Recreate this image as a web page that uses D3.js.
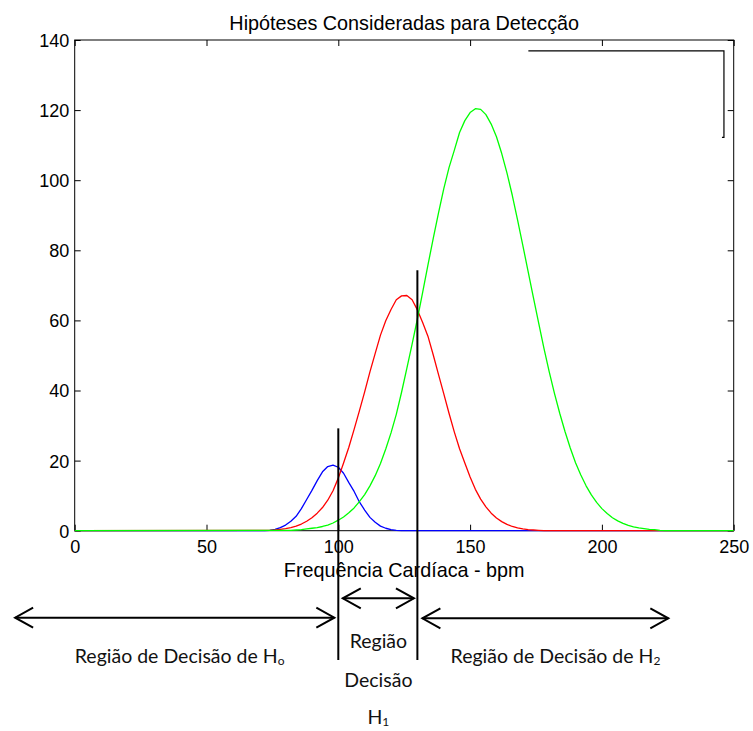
<!DOCTYPE html>
<html>
<head>
<meta charset="utf-8">
<script src="https://cdn.jsdelivr.net/npm/d3@7"></script>
<style>
  html, body { margin: 0; padding: 0; background: #fff; }
  svg { display: block; }
</style>
</head>
<body>
<script>
// ---------------- data ----------------
const xTicks = [0, 50, 100, 150, 200, 250];
const yTicks = [0, 20, 40, 60, 80, 100, 120, 140];

const blueBpm = [0, 72, 74, 76, 78, 80, 82, 84, 86, 88, 90, 92, 94, 96, 98, 100, 102, 104, 106, 108, 110, 112, 114, 116, 118, 120, 122, 124, 250];
const blueVal = [0, 0, 0.1, 0.4, 0.9, 1.6, 2.7, 4.1, 6.3, 8.9, 11.5, 14.3, 16.8, 18.3, 18.7, 18.1, 16.4, 13.7, 11.2, 8.2, 5.9, 3.8, 2.4, 1.3, 0.7, 0.3, 0.1, 0, 0];

const redBpm = [0, 74, 76, 78, 80, 82, 84, 86, 88, 90, 92, 94, 96, 98, 100, 102, 104, 106, 108, 110, 112, 114, 116, 118, 120, 122, 124, 126, 128, 130, 132, 134, 136, 138, 140, 142, 144, 146, 148, 150, 152, 154, 156, 158, 160, 162, 164, 166, 168, 170, 172, 174, 176, 178, 250];
const redVal = [0, 0.1, 0.2, 0.4, 0.6, 0.9, 1.3, 1.9, 2.7, 3.7, 5.0, 6.6, 8.7, 11.4, 15.0, 19.3, 23.8, 28.9, 34.2, 39.6, 45.3, 50.6, 55.8, 59.9, 63.1, 65.9, 67.0, 67.1, 65.9, 63.0, 59.4, 55.5, 50.2, 44.6, 39.1, 33.5, 28.2, 23.4, 19.3, 15.3, 11.8, 9.0, 6.8, 5.0, 3.6, 2.6, 1.8, 1.2, 0.8, 0.5, 0.3, 0.2, 0.1, 0, 0];

const greenBpm = [0, 82, 84, 86, 88, 90, 92, 94, 96, 98, 100, 102, 104, 106, 108, 110, 112, 114, 116, 118, 120, 122, 124, 126, 128, 130, 132, 134, 136, 138, 140, 142, 144, 146, 148, 150, 152, 154, 156, 158, 160, 162, 164, 166, 168, 170, 172, 174, 176, 178, 180, 182, 184, 186, 188, 190, 192, 194, 196, 198, 200, 202, 204, 206, 208, 210, 212, 214, 216, 218, 220, 222, 224, 250];
const greenVal = [0, 0.1, 0.2, 0.3, 0.5, 0.7, 0.9, 1.2, 1.6, 2.2, 3.0, 3.9, 5.1, 6.5, 8.3, 10.3, 12.8, 15.7, 19.2, 23.3, 27.9, 33.2, 39.5, 46.3, 53.2, 60.4, 68.0, 75.8, 83.3, 90.6, 97.5, 103.6, 108.5, 113.6, 117.0, 119.3, 120.4, 120.2, 118.7, 116.0, 112.4, 107.6, 102.0, 95.7, 88.7, 81.4, 74.0, 66.6, 59.3, 52.1, 45.4, 39.2, 33.5, 28.3, 23.6, 19.4, 15.9, 12.8, 10.2, 8.1, 6.3, 4.9, 3.7, 2.8, 2.1, 1.5, 1.1, 0.8, 0.6, 0.4, 0.3, 0.1, 0, 0];

// decision thresholds (bpm) and the height (y value) where each marker line starts
const thresholdBpm = [100, 130];
const thresholdTop = [29.2, 74.3];

// decision-region arrows, in bpm units
const arrowFrom = [-22.6, 101.7, 131.9];
const arrowTo = [98.5, 128.7, 225.2];

// legend box remnant (bpm / value units)
const boxBpm = [172.1, 246.3];
const boxVal = [136.9, 112.2];

const titleText = "Hipóteses Consideradas para Detecção";
const xLabelText = "Frequência Cardíaca - bpm";

// ---------------- layout ----------------
const W = 753, H = 731;
const pLeft = 74.7, pRight = 733.7, pTop = 40, pBottom = 530.7;

const svg = d3.select("body").append("svg").attr("width", W).attr("height", H);

const x = d3.scaleLinear().domain([0, 250]).range([pLeft, pRight]);
const y = d3.scaleLinear().domain([0, 140]).range([pBottom, pTop]);

const mFont = "'Liberation Sans', Arial, Helvetica, sans-serif";
const aFont = "Lato, 'Open Sans', sans-serif";

// axes (ticks inside, box)
const gB = svg.append("g").attr("transform", `translate(0,${pBottom})`)
  .call(d3.axisBottom(x).tickValues(xTicks).tickSizeInner(-6).tickSizeOuter(0).tickPadding(10).tickFormat(d3.format("d")));
const gT = svg.append("g").attr("transform", `translate(0,${pTop})`)
  .call(d3.axisTop(x).tickValues(xTicks).tickSizeInner(-6).tickSizeOuter(0).tickFormat(""));
const gL = svg.append("g").attr("transform", `translate(${pLeft},0)`)
  .call(d3.axisLeft(y).tickValues(yTicks).tickSizeInner(-6).tickSizeOuter(0).tickPadding(5.5).tickFormat(d3.format("d")));
const gR = svg.append("g").attr("transform", `translate(${pRight},0)`)
  .call(d3.axisRight(y).tickValues(yTicks).tickSizeInner(-6).tickSizeOuter(0).tickFormat(""));
[gB, gT, gL, gR].forEach(g => {
  g.select(".domain").remove();
  g.selectAll("line").attr("stroke", "#000").attr("stroke-width", 1);
  g.selectAll("text").attr("fill", "#000").style("font-family", mFont).style("font-size", "18px");
});
gL.selectAll("text").attr("dy", "0.36em");

svg.append("rect")
  .attr("x", pLeft).attr("y", pTop)
  .attr("width", pRight - pLeft).attr("height", pBottom - pTop)
  .attr("fill", "none").attr("stroke", "#000").attr("stroke-width", 1);

// legend box remnant
svg.append("path")
  .attr("d", `M${x(boxBpm[0])},${y(boxVal[0])}H${x(boxBpm[1])}V${y(boxVal[1])}h-2`)
  .attr("fill", "none").attr("stroke", "#000").attr("stroke-width", 1.2);

// curves
const line = d3.line().x(d => x(d[0])).y(d => y(d[1]));
const series = [
  { bpm: blueBpm, val: blueVal, color: "#0000ff" },
  { bpm: redBpm, val: redVal, color: "#ff0000" },
  { bpm: greenBpm, val: greenVal, color: "#00ff00" }
];
series.forEach(s => {
  svg.append("path")
    .datum(d3.zip(s.bpm, s.val))
    .attr("d", line)
    .attr("fill", "none")
    .attr("stroke", s.color)
    .attr("stroke-width", 1.3)
    .attr("stroke-linejoin", "round");
});

// title and x label
svg.append("text")
  .attr("x", (pLeft + pRight) / 2).attr("y", 30)
  .attr("text-anchor", "middle")
  .style("font-family", mFont).style("font-size", "19.8px")
  .text(titleText);
svg.append("text")
  .attr("x", (pLeft + pRight) / 2).attr("y", 577.3)
  .attr("text-anchor", "middle")
  .style("font-family", mFont).style("font-size", "19.8px")
  .text(xLabelText);

// threshold lines
const lineBottom = 660;
thresholdBpm.forEach((b, i) => {
  svg.append("line")
    .attr("x1", x(b)).attr("x2", x(b))
    .attr("y1", y(thresholdTop[i])).attr("y2", lineBottom)
    .attr("stroke", "#000").attr("stroke-width", 2);
});

// arrows
const arrowY = [617.7, 598.3, 618.3];
const headLen = 18, headHalf = 10;
arrowFrom.forEach((a, i) => {
  const x1 = x(a), x2 = x(arrowTo[i]), yy = arrowY[i];
  const g = svg.append("g").attr("fill", "none").attr("stroke", "#000").attr("stroke-width", 2);
  g.append("line").attr("x1", x1).attr("x2", x2).attr("y1", yy).attr("y2", yy);
  g.append("path").attr("d", `M${x1 + headLen},${yy - headHalf}L${x1},${yy}L${x1 + headLen},${yy + headHalf}`);
  g.append("path").attr("d", `M${x2 - headLen},${yy - headHalf}L${x2},${yy}L${x2 - headLen},${yy + headHalf}`);
});

// region labels
function regionLabel(cx, by, main, sub) {
  const t = svg.append("text")
    .attr("x", cx).attr("y", by)
    .attr("text-anchor", "middle")
    .style("font-family", aFont).style("font-size", "19.5px")
    .attr("fill", "#111");
  t.append("tspan").text(main);
  if (sub) t.append("tspan").attr("dy", 2).style("font-size", "12px").text(sub);
  return t;
}
regionLabel(x(39.8), 663.3, "Região de Decisão de H", "o");
regionLabel(x(182.4), 663.3, "Região de Decisão de H", "2");
regionLabel(x(115.2), 648.3, "Região");
regionLabel(x(115.2), 686.7, "Decisão");
regionLabel(x(115.2), 723.5, "H", "1");
</script>
</body>
</html>
